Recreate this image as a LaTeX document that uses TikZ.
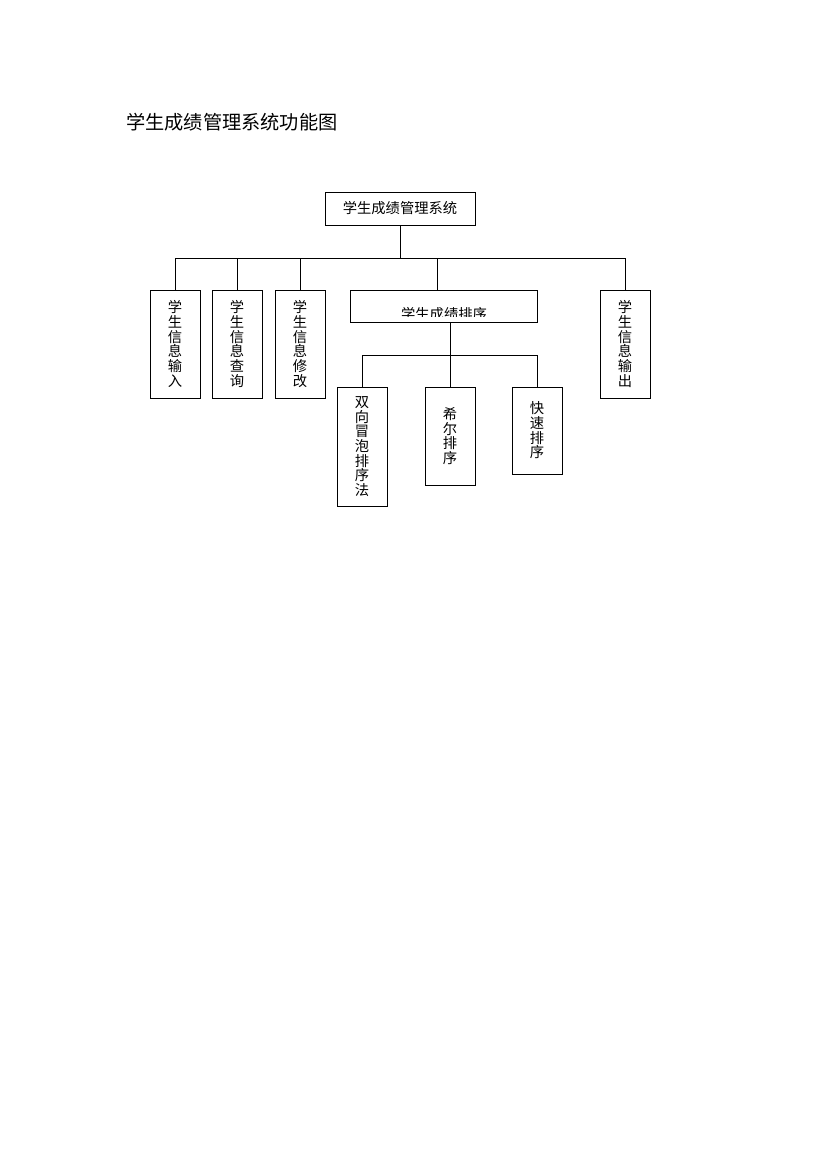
\documentclass[tikz,border=0pt]{standalone}
\usepackage{fontspec}
\setmainfont{Noto Sans CJK SC}
\tikzset{
  box/.style={draw, line width=0.8pt, inner sep=0pt, align=center, font=\fontsize{14.3}{14.7}\selectfont},
  vbox/.style={box, minimum width=50pt},
  link/.style={line width=0.8pt},
}
\begin{document}
\begin{tikzpicture}[x=1pt,y=-1pt]
\useasboundingbox[fill=white] (0,0) rectangle (826,1169);
\node[anchor=west, inner sep=0pt, font=\fontsize{19.2}{21}\selectfont] (title) at (126,122) {学生成绩管理系统功能图};

\node[box, minimum width=150pt, minimum height=33pt] (root) at (400,208.5) {学生成绩管理系统};

\node[vbox, minimum height=108pt] (in) at (175,344) {学\\生\\信\\息\\输\\入};
\node[vbox, minimum height=108pt] (query) at (237,344) {学\\生\\信\\息\\查\\询};
\node[vbox, minimum height=108pt] (mod) at (300,344) {学\\生\\信\\息\\修\\改};
\node[box, minimum width=187pt, minimum height=32pt] (sort) at (443.5,306) {};
\node[vbox, minimum height=108pt] (out) at (625,344) {学\\生\\信\\息\\输\\出};

\begin{scope}
\clip (sort.north west) rectangle (sort.east |- 0,316.5);
\node[inner sep=0pt, font=\fontsize{14.3}{14.7}\selectfont] (sorttext) at (444,314.5) {学生成绩排序};
\end{scope}

\node[vbox, minimum height=119pt] (bubble) at (362,446.5) {双\\向\\冒\\泡\\排\\序\\法};
\node[vbox, minimum height=98pt] (shell) at (450,436) {希\\尔\\排\\序};
\node[vbox, minimum height=87pt] (quick) at (537,430.5) {快\\速\\排\\序};

\coordinate (j1) at (400,258);
\coordinate (j2) at (450,355);

\draw[link] (root.south) -- (j1);
\draw[link] (in.north) |- (j1);
\draw[link] (query.north) |- (j1);
\draw[link] (mod.north) |- (j1);
\draw[link] (out.north) |- (j1);
\draw[link] (sort.north -| 437,0) |- (j1);

\draw[link] (sort.south -| j2) -- (j2);
\draw[link] (bubble.north) |- (j2);
\draw[link] (shell.north) -- (j2);
\draw[link] (quick.north) |- (j2);
\end{tikzpicture}
\end{document}
